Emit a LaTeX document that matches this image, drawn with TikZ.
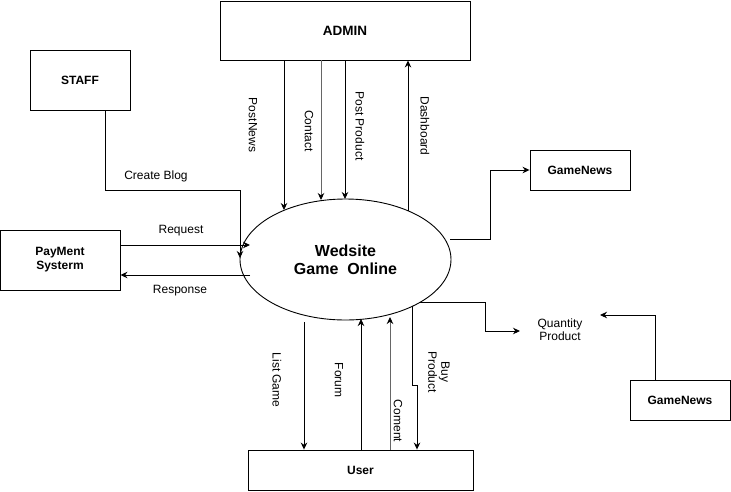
\documentclass[tikz,border=0pt]{standalone}
\usepackage{fontspec}
\setmainfont{Liberation Sans}
\usetikzlibrary{positioning,arrows.meta,shapes.geometric}

\tikzset{
  box/.style={draw, line width=0.9pt, align=center, font=\fontsize{12}{14}\selectfont\bfseries},
  lbl/.style={align=center, inner sep=1pt, font=\fontsize{12}{13}\selectfont},
  flow/.style={line width=0.9pt, -{Stealth[length=7pt,width=6.5pt]}},
  greyflow/.style={flow, draw=black!60, -{Stealth[length=7pt,width=6.5pt,color=black]}},
}

\begin{document}
\begin{tikzpicture}[x=1pt, y=-1pt]
        \useasboundingbox (0,0) rectangle (731,491);
        % Nodes
        \node (admin) at (345,30.5) [box, minimum width=250, minimum height=59, font=\fontsize{13.5}{15}\selectfont\bfseries] {ADMIN};
        \node (staff) at (80,80) [box, minimum width=100, minimum height=60] {STAFF};
        \node (pay) at (60,260) [box, minimum width=120, minimum height=60] {PayMent\\Systerm};
        \node (web) at (345.5,259.5) [ellipse, draw, line width=0.9pt, minimum width=211, minimum height=121,
            align=center, font=\fontsize{16}{18}\selectfont\bfseries] {Wedsite\\Game\ \ Online};
        \node (news1) at (580,170) [box, minimum width=100, minimum height=40] {GameNews};
        \node (news2) at (680,400) [box, minimum width=100, minimum height=40] {GameNews};
        \node (user) at (360.5,470) [box, minimum width=225, minimum height=40] {User};
        \node (qty) at (560,330) [lbl] {Quantity\\Product};
        % Points on the ellipse
        \coordinate (pnW) at (284,210);
        \coordinate (ctW) at (321,200);
        \coordinate (ppW) at (345,199);
        \coordinate (dbW) at (408,211);
        \coordinate (lgW) at (304,322);
        \coordinate (fmW) at (361,319);
        \coordinate (cmW) at (390,317);
        \coordinate (bpW) at (412,306);
        \coordinate (gnW) at (450,239);
        \coordinate (qtW) at (420,302);
        \coordinate (rqW) at (250,245);
        \coordinate (rsW) at (250,275);
        \coordinate (cbW) at (240,258);
        % Bends and free ends
        \coordinate (cbK) at (105,190);
        \coordinate (bpK) at (417,385);
        \coordinate (q2K) at (655,315);
        \coordinate (qtyL) at (520,331);
        \coordinate (qtyR) at (600,315);

        % Edges
        \foreach \p in {pnW,ppW} {
            \draw[flow] (admin.south -| \p) -- (\p);
        }
        \draw[greyflow] (admin.south -| ctW) -- (ctW);
        \draw[flow] (dbW) -- (admin.south -| dbW);
        \draw[flow] (staff.south -| cbK) -- (cbK) -| (cbW);
        \draw[flow] (pay.east |- rqW) -- (rqW);
        \draw[flow] (rsW) -- (pay.east |- rsW);
        \draw[flow] (gnW) -- ++(40,0) |- (news1.west);
        \draw[flow] (qtW) -- ++(65,0) |- (qtyL);
        \draw[flow] (news2.north -| q2K) -- (q2K) -- (qtyR);
        \draw[flow] (lgW) -- (user.north -| lgW);
        \draw[flow] (user.north -| fmW) -- (fmW);
        \draw[greyflow] (user.north -| cmW) -- (cmW);
        \draw[flow] (bpW) |- (bpK) -- (user.north -| bpK);

        % Labels
        \node (lPostNews) at (253,125) [lbl, rotate=-90] {PostNews};
        \node (lContact) at (309,131) [lbl, rotate=-90] {Contact};
        \node (lPostProduct) at (360,126) [lbl, rotate=-90] {Post Product};
        \node (lDashboard) at (425,126) [lbl, rotate=-90] {Dashboard};
        \node (lBlog) at (156,176) [lbl] {Create Blog};
        \node (lRequest) at (181,231) [lbl] {Request};
        \node (lResponse) at (180,291) [lbl] {Response};
        \node (lListGame) at (277,380) [lbl, rotate=-90] {List Game};
        \node (lForum) at (339,380) [lbl, rotate=-90] {Forum};
        \node (lComent) at (398,421) [lbl, rotate=-90] {Coment};
        \node (lBuy) at (439,372) [lbl, rotate=-90] {Buy\\Product};
\end{tikzpicture}
\end{document}
